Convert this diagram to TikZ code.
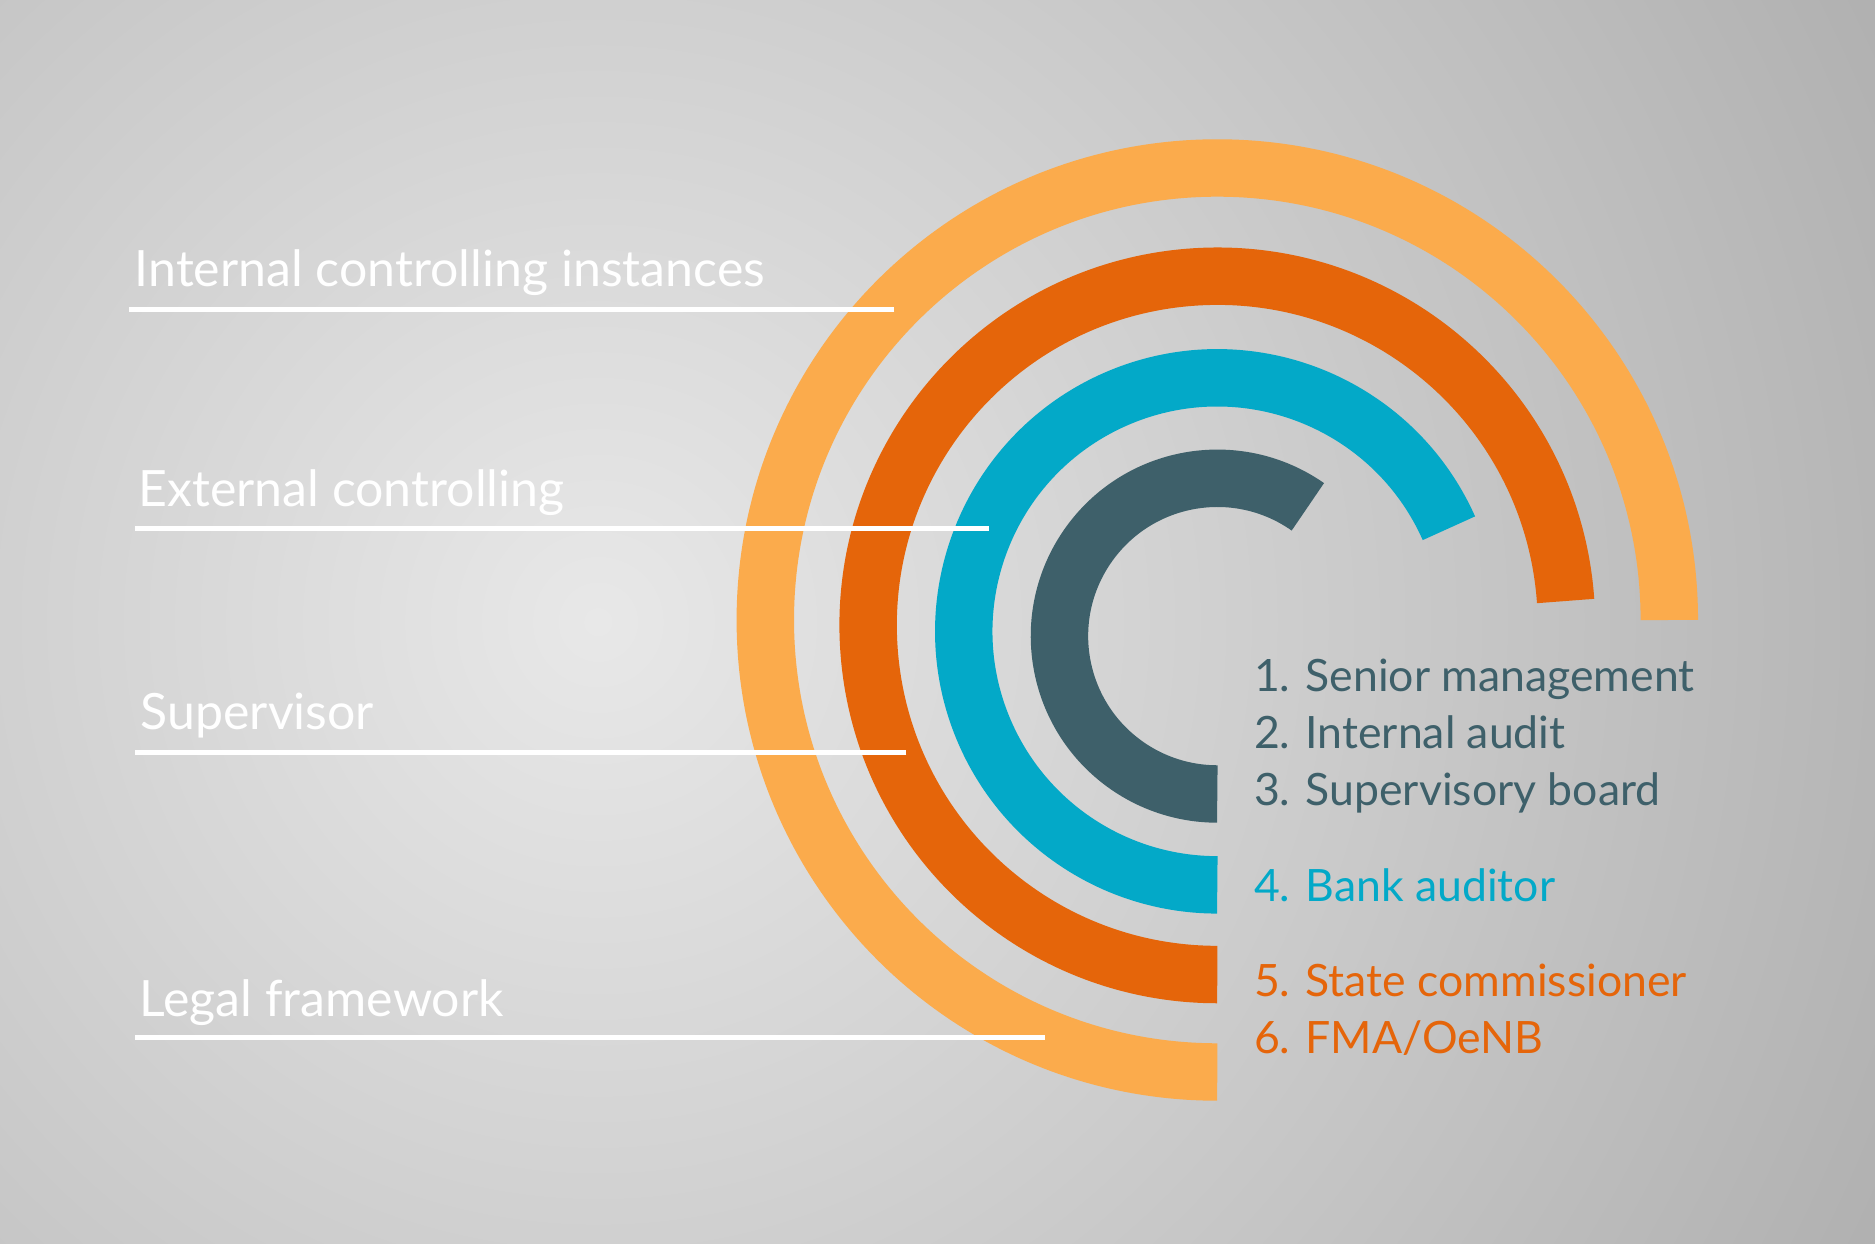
\documentclass[tikz,border=0pt]{standalone}
\usepackage{fontspec}
\setmainfont{Lato}
\usetikzlibrary{positioning}
\definecolor{lightorange}{HTML}{FBAB4C}
\definecolor{darkorange}{HTML}{E5650A}
\definecolor{cyanring}{HTML}{03A9C8}
\definecolor{slate}{HTML}{3E606A}
\tikzset{l/.style={font=\fontsize{11.9}{11.9}\selectfont,text=white,anchor=base west,inner sep=0pt}}
\tikzset{m/.style={font=\fontsize{10.6}{10.6}\selectfont,anchor=base west,inner sep=0pt}}
\tikzset{ring/.style={line width=0.48cm}}
\begin{document}
\begin{tikzpicture}[x=0.01cm,y=0.01cm]
  \useasboundingbox (0,0) rectangle (1568,1040);
  \clip (0,0) rectangle (1568,1040);
  \fill[gray!62] (0,0) rectangle (1568,1040);
  \shade[inner color=gray!18,outer color=gray!62] (-700,-680) rectangle (1700,1720);
  % rings
  \draw[ring,lightorange] (1018,521.5) ++(0:378) arc (0:270:378);
  \draw[ring,darkorange] (1018,517) ++(4:292) arc (4:270:292);
  \draw[ring,cyanring] (1018,512) ++(24:212) arc (24:270:212);
  \draw[ring,slate] (1018,508) ++(55:132) arc (55:270:132);
  % left labels
  \node[l] (int) at (112,800) {Internal controlling instances};
  \node[l] (ext) at (115,616) {External controlling};
  \node[l] (sup) at (117,430) {Supervisor};
  \node[l] (leg) at (116,190) {Legal framework};
  \coordinate (int-e) at (748,781);
  \coordinate (ext-e) at (827,598);
  \coordinate (sup-e) at (758,411);
  \coordinate (leg-e) at (874,172);
  \draw[white,line width=1.2pt] (int-e) -- (108,781);
  \draw[white,line width=1.2pt] (ext-e) -- (113,598);
  \draw[white,line width=1.2pt] (sup-e) -- (113,411);
  \draw[white,line width=1.2pt] (leg-e) -- (113,172);
  % list
  \node[m,text=slate] (s1) at (1048,462) {1. Senior management};
  \node[m,text=slate] (s2) at (1048,414) {2. Internal audit};
  \node[m,text=slate] (s3) at (1048,366) {3. Supervisory board};
  \node[m,text=cyanring] (s4) at (1048,286) {4. Bank auditor};
  \node[m,text=darkorange] (s5) at (1048,207) {5. State commissioner};
  \node[m,text=darkorange] (s6) at (1048,159) {6. FMA/OeNB};
\end{tikzpicture}
\end{document}
